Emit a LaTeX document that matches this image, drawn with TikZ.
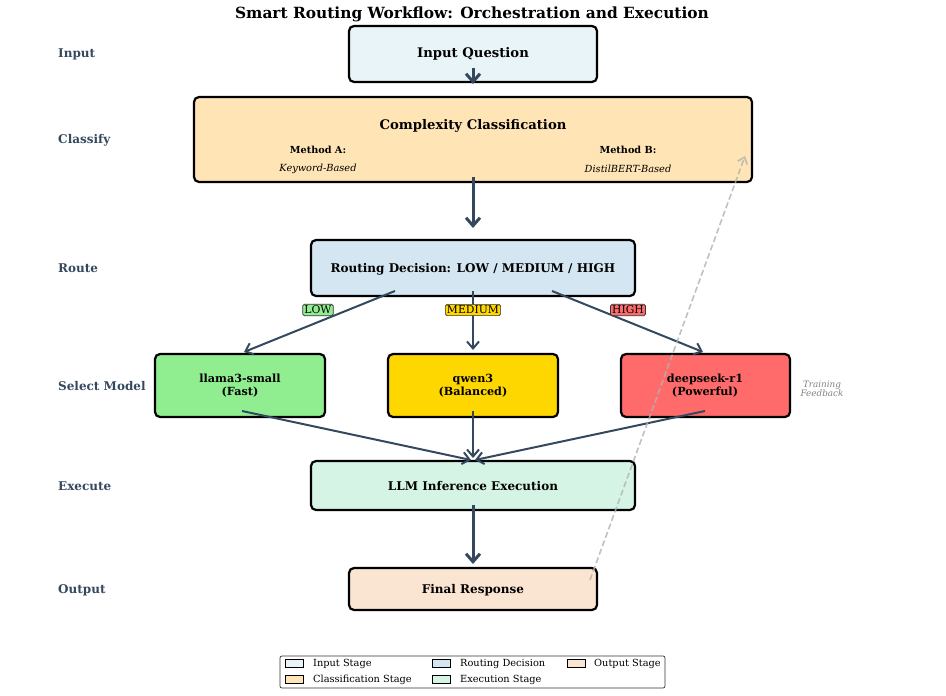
\documentclass[tikz,border=0pt]{standalone}
\usepackage{fontspec}
\setmainfont{DejaVu Serif}
\usetikzlibrary{arrows.meta}
\definecolor{cInput}{HTML}{E8F4F8}
\definecolor{cClass}{HTML}{FFE4B5}
\definecolor{cRoute}{HTML}{D4E6F1}
\definecolor{cExec}{HTML}{D5F4E6}
\definecolor{cOut}{HTML}{FAE5D3}
\definecolor{cLow}{HTML}{90EE90}
\definecolor{cMed}{HTML}{FFD700}
\definecolor{cHigh}{HTML}{FF6B6B}
\definecolor{slate}{HTML}{34495E}
\tikzset{
  x=1pt,y=-1pt,
  stagebox/.style={draw=black,line width=2.2pt,rounded corners=5pt,inner sep=0pt},
  flow/.style={draw=slate,line width=2pt,-{Straight Barb[length=7pt,width=12pt,line width=2pt]}},
  bigflow/.style={draw=slate,line width=3pt,-{Straight Barb[length=8pt,width=14pt,line width=3pt]}},
  sidelabel/.style={anchor=west,text=slate,inner sep=0pt,font=\bfseries\fontsize{12}{14}\selectfont},
  tag/.style={draw=black!80,line width=0.7pt,rounded corners=1.5pt,inner sep=1.6pt,font=\fontsize{10.8}{11}\selectfont},
  legpatch/.style={draw=black,line width=0.8pt,minimum width=18pt,minimum height=8pt,inner sep=0pt},
  legtext/.style={anchor=west,font=\fontsize{9.8}{11}\selectfont,inner sep=0pt},
}
\begin{document}
\begin{tikzpicture}
\useasboundingbox (0,0) rectangle (946,696);
% title
\node (title) at (472,14) {\bfseries\fontsize{15.4}{17}\selectfont Smart Routing Workflow: Orchestration and Execution};
% side labels
\node[sidelabel] (lIn) at (58,54) {Input};
\node[sidelabel] (lCl) at (58,140) {Classify};
\node[sidelabel] (lRo) at (58,268) {Route};
\node[sidelabel] (lSe) at (58,386) {Select Model};
\node[sidelabel] (lEx) at (58,486) {Execute};
\node[sidelabel] (lOu) at (58,590) {Output};
% boxes
\draw[stagebox,fill=cInput] (349,26) rectangle (597,82);
\node (inq) at (473,54) {\bfseries\fontsize{13.2}{15}\selectfont Input Question};
\draw[stagebox,fill=cClass] (194,97) rectangle (752,182);
\node (cls) at (473,126) {\bfseries\fontsize{13.2}{15}\selectfont Complexity Classification};
\node (mA) at (318,150) {\bfseries\fontsize{9.7}{11}\selectfont Method A:};
\node (mAt) at (318,169) {\itshape\fontsize{9.8}{11}\selectfont Keyword-Based};
\node (mB) at (628,150) {\bfseries\fontsize{9.7}{11}\selectfont Method B:};
\node (mBt) at (628,169) {\itshape\fontsize{9.8}{11}\selectfont DistilBERT-Based};
\draw[stagebox,fill=cRoute] (311,240) rectangle (635,296);
\node (rt) at (473,269) {\bfseries\fontsize{12}{14}\selectfont Routing Decision: LOW / MEDIUM / HIGH};
\draw[stagebox,fill=cLow] (155,354) rectangle (325,417);
\node[align=center,font=\bfseries\fontsize{11.2}{13}\selectfont] (m1) at (240,386) {llama3-small\\(Fast)};
\draw[stagebox,fill=cMed] (388,354) rectangle (558,417);
\node[align=center,font=\bfseries\fontsize{11.2}{13}\selectfont] (m2) at (473,386) {qwen3\\(Balanced)};
\draw[stagebox,fill=cHigh] (621,354) rectangle (790,417);
\node[align=center,font=\bfseries\fontsize{11.2}{13}\selectfont] (m3) at (705,386) {deepseek-r1\\(Powerful)};
\draw[stagebox,fill=cExec] (311,461) rectangle (635,510);
\node (ex) at (473,486) {\bfseries\fontsize{12}{14}\selectfont LLM Inference Execution};
\draw[stagebox,fill=cOut] (349,568) rectangle (597,610);
\node (out) at (473,590) {\bfseries\fontsize{12}{14}\selectfont Final Response};
% coordinates for connectors
\coordinate (a1s) at (473,68); \coordinate (a1e) at (473,84);
\coordinate (a2s) at (473,177); \coordinate (a2e) at (473,228);
\coordinate (r1s) at (395,291); \coordinate (r1e) at (244,352);
\coordinate (r2s) at (473,291); \coordinate (r2e) at (473,350);
\coordinate (r3s) at (552,291); \coordinate (r3e) at (703,352);
\coordinate (e1s) at (242,411); \coordinate (e1e) at (471,460);
\coordinate (e2s) at (473,411); \coordinate (e2e) at (473,458);
\coordinate (e3s) at (705,411); \coordinate (e3e) at (475,460);
\coordinate (f1s) at (473,505); \coordinate (f1e) at (473,564);
\coordinate (fbS) at (590,580); \coordinate (fbE) at (745,156);
% connectors
\draw[bigflow] (a1s) -- (a1e);
\draw[bigflow] (a2s) -- (a2e);
\draw[flow] (r1s) -- (r1e);
\draw[flow] (r2s) -- (r2e);
\draw[flow] (r3s) -- (r3e);
\draw[flow] (e1s) -- (e1e);
\draw[flow] (e2s) -- (e2e);
\draw[flow] (e3s) -- (e3e);
\draw[bigflow] (f1s) -- (f1e);
\draw[gray!60,line width=1.6pt,dash pattern=on 6pt off 3pt,opacity=0.8,-{Straight Barb[length=6pt,width=10pt,line width=1.6pt]}] (fbS) -- (fbE);
% tags
\node[tag,fill=cLow] (tLow) at (318,310) {LOW};
\node[tag,fill=cMed] (tMed) at (473,310) {MEDIUM};
\node[tag,fill=cHigh] (tHigh) at (628,310) {HIGH};
\node[align=center,text=gray,font=\itshape\fontsize{8.8}{9.5}\selectfont] (tf) at (822,389) {Training\\Feedback};
% legend
\draw[draw=black!80,line width=0.7pt,fill=white,rounded corners=2pt] (280,656) rectangle (665,688);
\node[legpatch,fill=cInput] (p1) at (294,663) {};
\node[legtext] (t1) at (313,664) {Input Stage};
\node[legpatch,fill=cClass] (p2) at (294,679) {};
\node[legtext] (t2) at (313,680) {Classification Stage};
\node[legpatch,fill=cRoute] (p3) at (441,663) {};
\node[legtext] (t3) at (460,664) {Routing Decision};
\node[legpatch,fill=cExec] (p4) at (441,679) {};
\node[legtext] (t4) at (460,680) {Execution Stage};
\node[legpatch,fill=cOut] (p5) at (576,663) {};
\node[legtext] (t5) at (594,664) {Output Stage};
\end{tikzpicture}
\end{document}
